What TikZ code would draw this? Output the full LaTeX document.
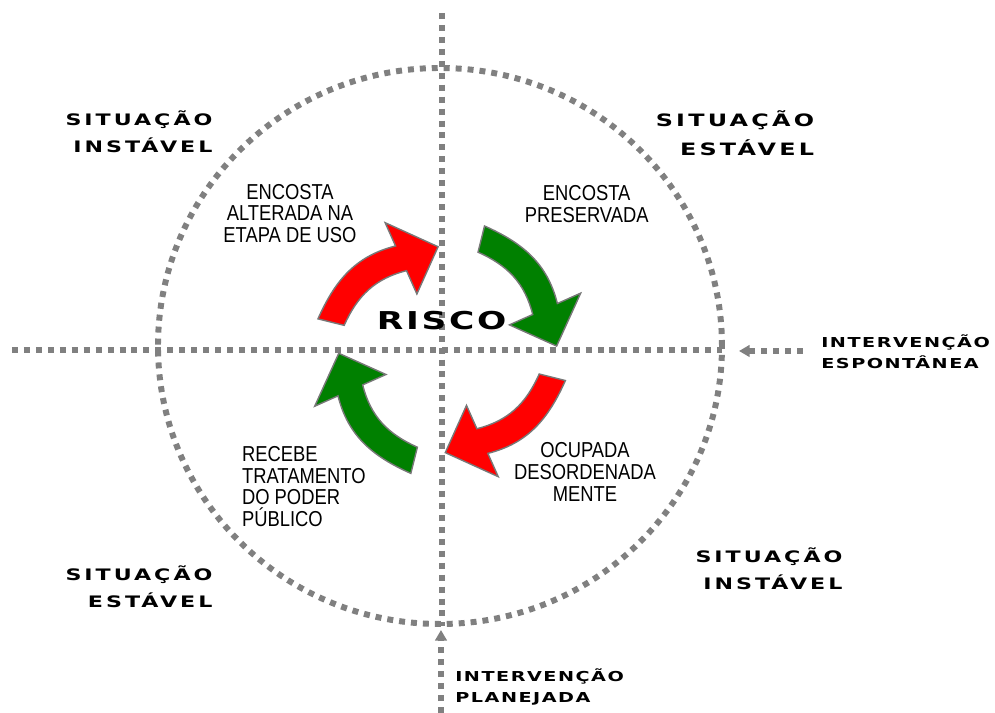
\documentclass[tikz,border=0pt]{standalone}
\usepackage{fontspec}
\usetikzlibrary{arrows.meta}
\newfontfamily\labelfont{Liberation Sans}[FakeStretch=0.85]
\newfontfamily\widefont{DejaVu Sans}[FakeStretch=1.4,LetterSpace=19]
\newfontfamily\smallwidefont{DejaVu Sans}[FakeStretch=1.4,LetterSpace=11]
\newfontfamily\riscofont{DejaVu Sans}[FakeStretch=1.4,LetterSpace=11]
\definecolor{dotgray}{RGB}{128,128,128}
\definecolor{rimgray}{RGB}{120,120,120}
\definecolor{arrowred}{RGB}{255,0,0}
\definecolor{arrowgreen}{RGB}{0,128,0}
% one curved arrow of the cycle, #2 = angle of its tail
\newcommand\cyclearrow[2]{%
  \pgfmathsetmacro\ca{#2-52}%
  \pgfmathsetmacro\cb{#2-74}%
  \pgfmathsetmacro\cout{#2-100}%
  \pgfmathsetmacro\cin{#2+28}%
  \filldraw[#1] (#2:12.75) to[out=\cout, in=\cin] (\ca:11.35) -- (\ca:13.9) -- (\cb:10.3)
    -- (\ca:6.1) -- (\ca:8.65) to[out=\cin, in=\cout] (#2:10.05) -- cycle;}
\begin{document}
\begin{tikzpicture}[scale=0.2]
    \tikzstyle{every node}+=[inner sep=0pt]
    \tikzstyle{dotline}=[dotgray, line width=3.4pt, dash pattern=on 3.4pt off 3.4pt]
    \tikzstyle{dotarrow}=[dotline, -{Triangle[length=6pt,width=6.5pt]}]
    \tikzstyle{redarrow}=[fill=arrowred, draw=rimgray, line width=0.8pt]
    \tikzstyle{greenarrow}=[fill=arrowgreen, draw=rimgray, line width=0.8pt]
    \tikzstyle{situation}=[font=\widefont\bfseries\fontsize{9}{15.3}\selectfont, align=right]
    \tikzstyle{intervention}=[font=\smallwidefont\bfseries\fontsize{7.8}{11.9}\selectfont, align=left, anchor=west]
    \tikzstyle{stage}=[font=\labelfont\fontsize{12.3}{12.3}\selectfont]
    \useasboundingbox (0,0) rectangle (99.5,-71.3);
    % axes and rim
    \coordinate (o) at (44.17,-34.97);
    \coordinate (vtop) at (44.17,-1.3);
    \coordinate (vbot) at (44.17,-62.6);
    \coordinate (hleft) at (1.2,-34.97);
    \coordinate (hright) at (72.2,-34.97);
    \coordinate (rim) at (44.0,-34.6);
    \draw [dotline] (vtop) -- (vbot);
    \draw [dotline] (hleft) -- (hright);
    \draw [dotline] (rim) ellipse [x radius=28.2, y radius=27.8];
    % interventions
    \coordinate (espfrom) at (80.3,-35.1);
    \coordinate (espto) at (73.9,-35.1);
    \coordinate (planfrom) at (44.1,-71.3);
    \coordinate (planto) at (44.1,-63.0);
    \draw [dotarrow] (espfrom) -- (espto);
    \draw [dotarrow] (planfrom) -- (planto);
    \node [intervention] (esp) at (82.1,-35.2) {INTERVENÇÃO\\ESPONTÂNEA};
    \node [intervention] (plan) at (45.5,-68.7) {INTERVENÇÃO\\PLANEJADA};
    % situations
    \node [situation] (sittl) at (13.9,-13.2) {SITUAÇÃO\\INSTÁVEL};
    \node [situation, font=\widefont\bfseries\fontsize{9.7}{16.2}\selectfont] (sittr) at (73.5,-13.3) {SITUAÇÃO\\ESTÁVEL};
    \node [situation] (sitbr) at (76.9,-56.9) {SITUAÇÃO\\INSTÁVEL};
    \node [situation] (sitbl) at (13.9,-58.7) {SITUAÇÃO\\ESTÁVEL};
    % cycle
    \begin{scope}[shift={(o)}]
    \cyclearrow{redarrow}{166}
    \cyclearrow{greenarrow, shift={(1.2,0)}}{76}
    \cyclearrow{redarrow}{-14}
    \cyclearrow{greenarrow}{-104}
    \end{scope}
    \node [font=\riscofont\bfseries\fontsize{14}{14}\selectfont] (risk) at (44.17,-32.1) {RISCO};
    \node [stage, align=center] (alterada) at (29.0,-21.35) {ENCOSTA\\ALTERADA NA\\ETAPA DE USO};
    \node [stage, align=center] (preservada) at (58.67,-20.4) {ENCOSTA\\PRESERVADA};
    \node [stage, align=left, anchor=west] (tratamento) at (24.17,-48.67) {RECEBE\\TRATAMENTO\\DO PODER\\PÚBLICO};
    \node [stage, align=center] (ocupada) at (58.5,-47.2) {OCUPADA\\DESORDENADA\\MENTE};
\end{tikzpicture}
\end{document}
